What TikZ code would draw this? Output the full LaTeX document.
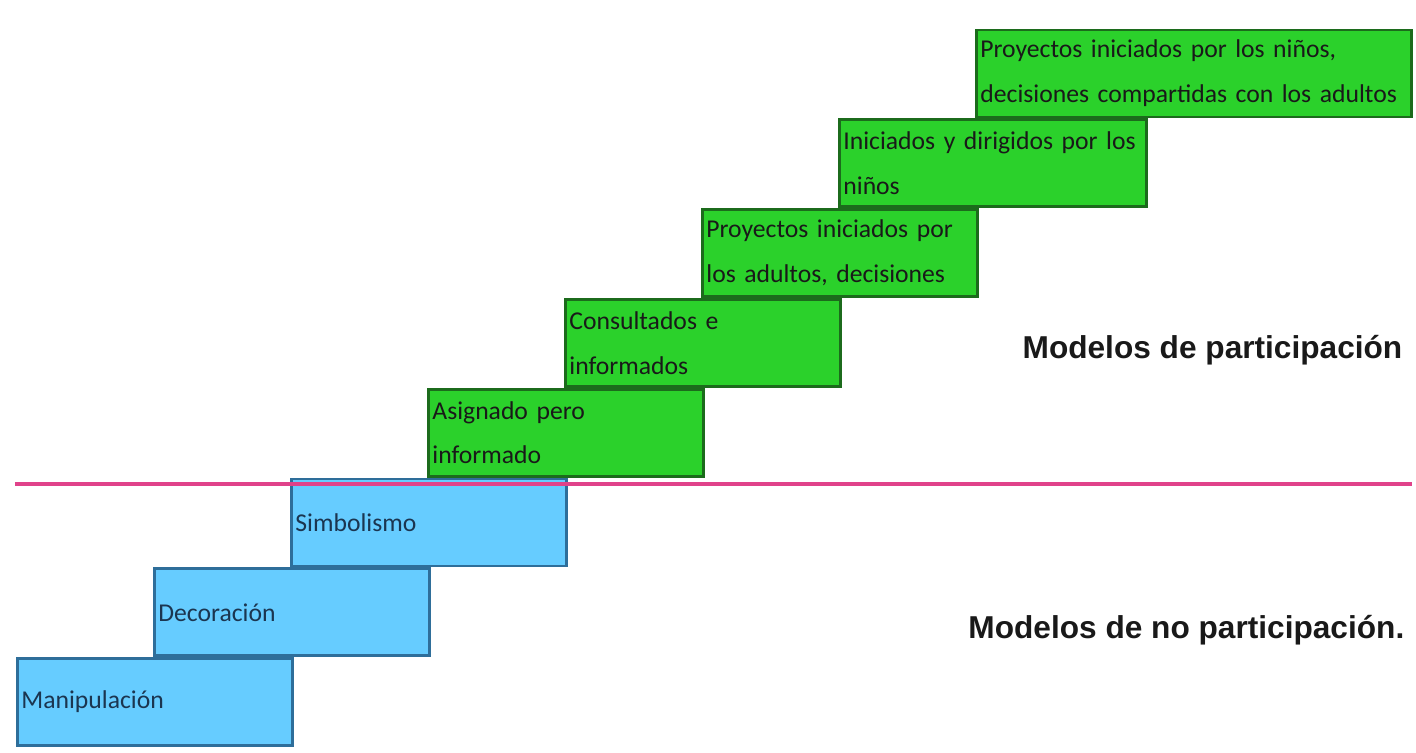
\documentclass[tikz,border=0pt]{standalone}
\usepackage{fontspec}
\usepackage{xcolor}
\usetikzlibrary{positioning}
\setmainfont{Carlito}
\newfontfamily\labelfont{Liberation Sans}
\definecolor{stepGreen}{HTML}{2BD12B}
\definecolor{stepGreenDark}{HTML}{1C6B1C}
\definecolor{stepBlue}{HTML}{66CCFF}
\definecolor{stepBlueDark}{HTML}{2E6E9A}
\definecolor{stepBlueText}{HTML}{1B3550}
\definecolor{linePink}{HTML}{E0428A}

\begin{document}
\begin{tikzpicture}
        % Styles
        \tikzstyle{nopart} = [rectangle, anchor=north west, minimum width=2.75cm, minimum height=0.87cm, text width=2.67cm, inner xsep=0.04cm, inner ysep=0pt, align=left, draw=stepBlueDark, line width=0.8pt, fill=stepBlue, text=stepBlueText, font=\fontsize{7.3}{12.8}\selectfont]
        \tikzstyle{part} = [nopart, draw=stepGreenDark, fill=stepGreen, text=black!90]
        \tikzstyle{level} = [font=\labelfont\bfseries\fontsize{9}{11}\selectfont, anchor=east, text=black!90, inner sep=0pt]
        \tikzstyle{divider} = [line width=1.4pt, color=linePink]

        \useasboundingbox (0,0) rectangle (14.16,-7.52);

        % Non-participation steps
        \node (mani) [nopart, anchor=south west] at (0.16,-7.47) {Manipulación};
        \node (deco) [nopart, above right=0cm and 1.37cm of mani.north west, anchor=south west] {Decoración};
        \node (simb) [nopart, above right=0cm and 1.37cm of deco.north west, anchor=south west] {Simbolismo};

        % Participation steps
        \node (asig) [part, above right=0cm and 1.37cm of simb.north west, anchor=south west] {Asignado pero\\informado};
        \node (cons) [part, above right=0cm and 1.37cm of asig.north west, anchor=south west] {Consultados e\\informados};
        \node (adul) [part, above right=0cm and 1.37cm of cons.north west, anchor=south west] {Proyectos iniciados por\\los adultos, decisiones};
        \node (dirig) [part, above right=0cm and 1.37cm of adul.north west, anchor=south west, minimum width=3.07cm, text width=2.99cm] {Iniciados y dirigidos por los\\niños};
        \node (ninos) [part, above right=0cm and 1.37cm of dirig.north west, anchor=south west, minimum width=4.35cm, text width=4.27cm] {Proyectos iniciados por los niños,\\decisiones compartidas con los adultos};

        % Divider
        \coordinate (lineL) at (0.15,-4.84);
        \coordinate (lineR) at (14.12,-4.84);
        \draw [divider] (lineL) -- (lineR);

        % Labels
        \node (lpart) [level] at (14.03,-3.5) {Modelos de participación};
        \node (lnopart) [level] at (14.05,-6.3) {Modelos de no participación.};

\end{tikzpicture}
\end{document}
